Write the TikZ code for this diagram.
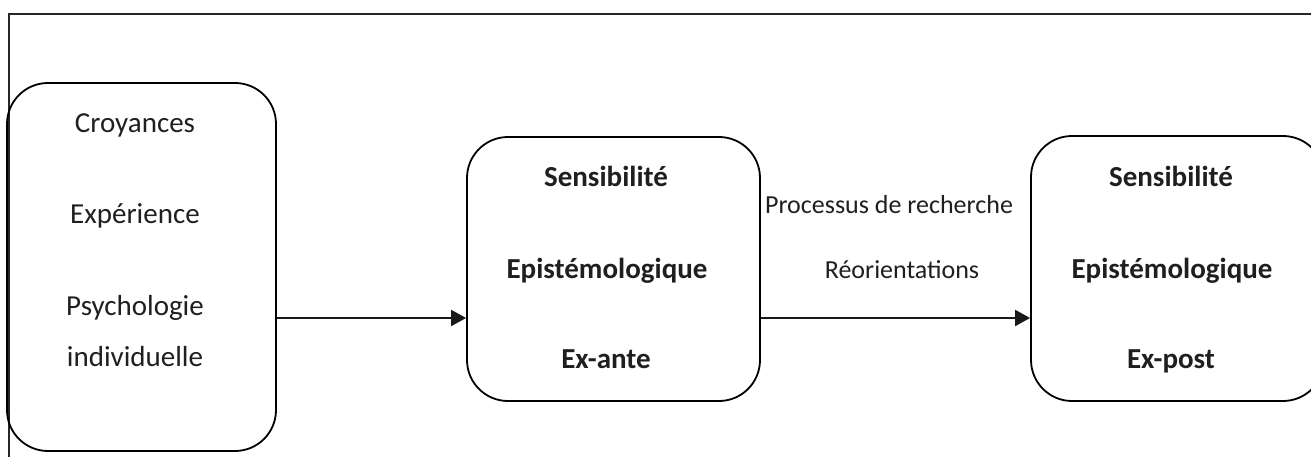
\documentclass[tikz,border=0pt]{standalone}
\usepackage{fontspec}
\setmainfont{Carlito}
\usetikzlibrary{arrows.meta}
\tikzset{
  box/.style={draw, line width=1.8pt, rounded corners=41pt, inner sep=0pt},
  boxtxt/.style={anchor=base, inner sep=0pt, font=\fontsize{29}{35}\selectfont, text=black!88},
  boldtxt/.style={boxtxt, font=\fontsize{29}{35}\selectfont\bfseries},
  lbltxt/.style={anchor=base, inner sep=0pt, font=\fontsize{26}{31}\selectfont, text=black!88},
  frame/.style={line width=1.8pt, draw=black!85},
  arr/.style={line width=2pt, draw=black!90, -{Triangle[length=15pt,width=16pt]}}
}
\begin{document}
\begin{tikzpicture}[x=1pt,y=-1pt]
\useasboundingbox (0,0) rectangle (1311,457);
\begin{scope}
\clip (0,0) rectangle (1311,457);
% outer frame
\coordinate (ftl) at (9,14);
\coordinate (ftr) at (1311,14);
\coordinate (fbl) at (9,457);
\draw[frame] (ftr) -- (ftl) -- (fbl);
% boxes
\node[box, minimum width=269pt, minimum height=368pt] (left) at (141.5,267) {};
\node[box, minimum width=293pt, minimum height=264pt] (mid) at (613.5,269) {};
\node[box, minimum width=293pt, minimum height=265pt] (right) at (1177.5,268.5) {};
% left texts
\node[boxtxt] (t1) at (135,133) {Croyances};
\node[boxtxt] (t2) at (135,223) {Expérience};
\node[boxtxt] (t3) at (135,315) {Psychologie};
\node[boxtxt] (t4) at (135,366) {individuelle};
% middle texts
\node[boldtxt] (m1) at (606,187) {Sensibilité};
\node[boldtxt] (m2) at (607,278) {Epistémologique};
\node[boldtxt] (m3) at (606,368) {Ex-ante};
% right texts
\node[boldtxt] (r1) at (1171,187) {Sensibilité};
\node[boldtxt] (r2) at (1172,278) {Epistémologique};
\node[boldtxt] (r3) at (1171,368) {Ex-post};
% arrow labels
\node[lbltxt] (l1) at (889,213) {Processus de recherche};
\node[lbltxt] (l2) at (902,278) {Réorientations};
% arrows
\coordinate (ay) at (0,318);
\draw[arr] (left.east |- ay) -- (mid.west |- ay);
\draw[arr] (mid.east |- ay) -- (right.west |- ay);
\end{scope}
\end{tikzpicture}
\end{document}
